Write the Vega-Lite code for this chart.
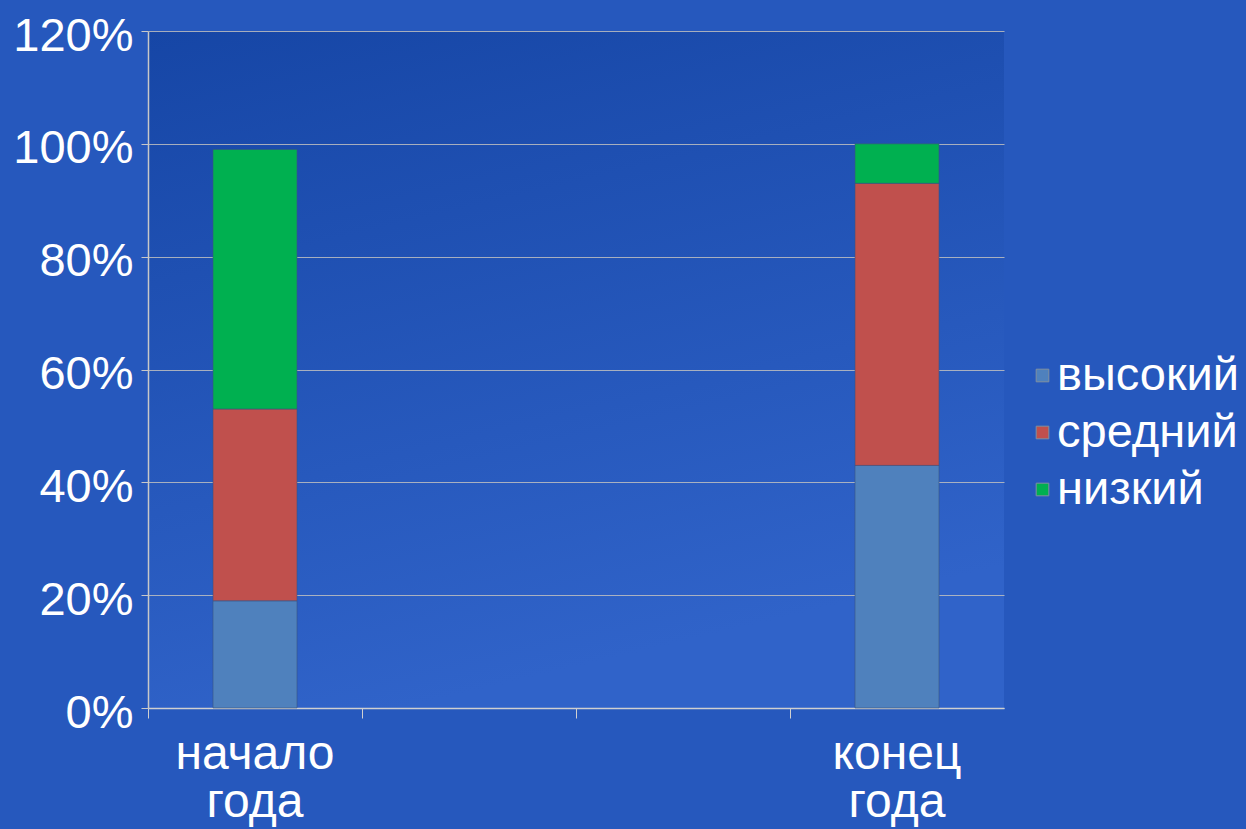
{
  "$schema": "https://vega.github.io/schema/vega-lite/v6.json",
  "autosize": "none",
  "padding": {"left": 148, "top": 31, "right": 242, "bottom": 121},
  "width": 856,
  "height": 677,
  "background": "#2658bd",
  "config": {
    "font": "Liberation Sans",
    "view": {
      "stroke": null,
      "fill": {"gradient": "linear", "x1": 0, "y1": 0, "x2": 0.3, "y2": 1, "stops": [{"offset": 0, "color": "#1646a6"}, {"offset": 1, "color": "#3063c9"}]}
    }
  },
  "data": {
    "values": [
      {"period": "начало года", "level": "высокий", "rank": 1, "share": 0.19},
      {"period": "начало года", "level": "средний", "rank": 2, "share": 0.34},
      {"period": "начало года", "level": "низкий", "rank": 3, "share": 0.46},
      {"period": "конец года", "level": "высокий", "rank": 1, "share": 0.43},
      {"period": "конец года", "level": "средний", "rank": 2, "share": 0.50},
      {"period": "конец года", "level": "низкий", "rank": 3, "share": 0.07}
    ]
  },
  "mark": {"type": "bar", "size": 84, "stroke": "#3a5480", "strokeWidth": 1, "strokeOpacity": 0.6},
  "encoding": {
    "x": {
      "field": "period",
      "type": "nominal",
      "scale": {"domain": ["начало года", "_b", "_c", "конец года"], "paddingInner": 0, "paddingOuter": 0},
      "axis": {
        "title": null,
        "labelAngle": 0,
        "bandPosition": 0,
        "labelExpr": "indexof(datum.value, '_') == 0 ? '' : split(datum.value, ' ')",
        "labelFontSize": 48,
        "labelColor": "#ffffff",
        "labelLineHeight": 48,
        "labelBaseline": "top",
        "labelPadding": 12,
        "labelAlign": "center",
        "domainColor": "#d0d0d0",
        "domainWidth": 1.5,
        "tickColor": "#d0d0d0",
        "tickSize": 10,
        "grid": false
      }
    },
    "y": {
      "field": "share",
      "type": "quantitative",
      "stack": "zero",
      "scale": {"domain": [0, 1.2], "nice": false},
      "axis": {
        "title": null,
        "format": ".0%",
        "values": [0, 0.2, 0.4, 0.6, 0.8, 1.0, 1.2],
        "labelFontSize": 47,
        "labelColor": "#ffffff",
        "labelPadding": 8,
        "labelOffset": 5,
        "tickSize": 7,
        "tickColor": "#c8c8c8",
        "domainColor": "#c8c8c8",
        "domainWidth": 1.5,
        "gridColor": "#c0c0c0",
        "gridWidth": 1.2,
        "gridOpacity": 0.85
      }
    },
    "color": {
      "field": "level",
      "type": "nominal",
      "scale": {"domain": ["высокий", "средний", "низкий"], "range": ["#4f81bd", "#c0504d", "#00b050"]},
      "legend": {
        "title": null,
        "orient": "none",
        "legendX": 871,
        "legendY": 321,
        "labelFontSize": 47,
        "labelColor": "#ffffff",
        "labelLimit": 400,
        "symbolType": "square",
        "symbolSize": 160,
        "symbolStrokeColor": "#8090a0",
        "symbolStrokeWidth": 1,
        "rowPadding": 9,
        "labelOffset": -9
      }
    },
    "order": {"field": "rank", "type": "quantitative", "sort": "ascending"}
  }
}
